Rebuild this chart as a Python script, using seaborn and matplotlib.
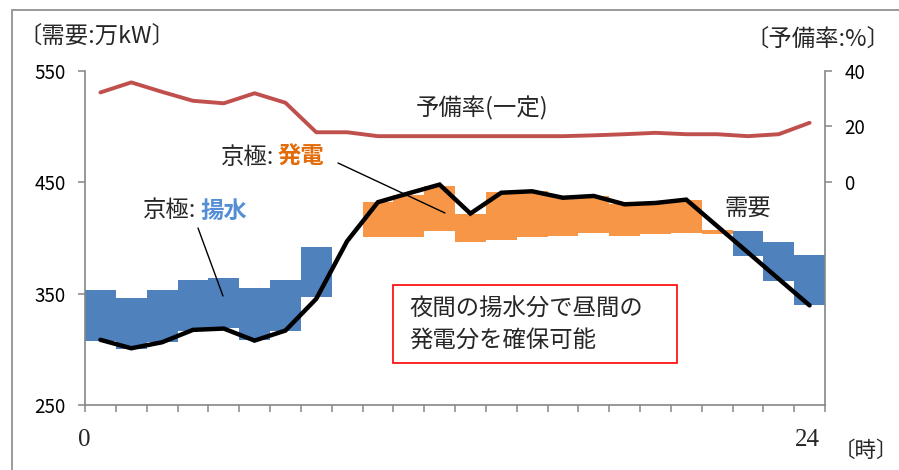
import numpy as np
import pandas as pd
import matplotlib
matplotlib.use("Agg")
import matplotlib.pyplot as plt
import seaborn as sns
from matplotlib.patches import Rectangle
from matplotlib.lines import Line2D

# ---------------- data ----------------
hour_centers = [0.5, 1.5, 2.5, 3.5, 4.5, 5.5, 6.5, 7.5, 8.5, 9.5, 10.5, 11.5,
                12.5, 13.5, 14.5, 15.5, 16.5, 17.5, 18.5, 19.5, 20.5, 21.5, 22.5, 23.5]
demand = [308.5, 300.9, 306.3, 317.4, 318.6, 307.8, 316.8, 345.3, 397.0, 432.0, 440.0, 447.8,
          421.8, 440.5, 441.8, 436.0, 437.6, 430.1, 431.3, 434.3, 410.6, 386.9, 363.1, 339.4]
reserve_rate = [32.2, 35.8, 32.4, 29.2, 28.3, 31.9, 28.5, 17.9, 17.9, 16.5, 16.5, 16.5,
                16.5, 16.5, 16.5, 16.5, 16.8, 17.2, 17.7, 17.2, 17.2, 16.5, 17.2, 21.3]

pump_hours = [0, 1, 2, 3, 4, 5, 6, 7, 21, 22, 23]
pump_low = [307.8, 300.4, 306.3, 316.2, 319.0, 308.7, 316.2, 346.8, 383.3, 361.2, 339.4]
pump_high = [353.4, 346.2, 353.4, 362.4, 363.9, 355.2, 362.4, 391.7, 405.9, 396.3, 384.3]

gen_hours = [9, 10, 11, 12, 13, 14, 15, 16, 17, 18, 19, 20]
gen_low = [400.7, 400.7, 405.9, 396.3, 397.7, 400.7, 402.0, 404.5, 402.0, 403.3, 404.8, 403.8]
gen_high = [432.2, 438.2, 446.7, 421.8, 440.9, 442.0, 436.5, 438.0, 430.0, 431.6, 434.3, 406.7]

left_ticks = [250, 350, 450, 550]
right_ticks = [0, 20, 40]

# ---------------- style ----------------
sns.set_theme(style="white")
plt.rcParams["font.family"] = ["Noto Sans CJK JP", "DejaVu Sans"]

BLUE = "#4F81BD"
ORANGE = "#F79646"
RED = "#C0504D"
GREY = "#868686"
FS = 16.8

W, H = 899, 470
fig = plt.figure(figsize=(W / 100, H / 100), dpi=100)

def fx(px):
    return px / W

def fy(py):
    return 1 - py / H

ax = fig.add_axes([fx(85), fy(405), fx(825) - fx(85), fy(70.7) - fy(405)])

pump = pd.DataFrame({"hour": pump_hours, "low": pump_low, "high": pump_high})
gen = pd.DataFrame({"hour": gen_hours, "low": gen_low, "high": gen_high})
ax.bar(pump["hour"], pump["high"] - pump["low"], bottom=pump["low"], width=1.0,
       align="edge", color=BLUE, linewidth=0, zorder=1)
ax.bar(gen["hour"], gen["high"] - gen["low"], bottom=gen["low"], width=1.0,
       align="edge", color=ORANGE, linewidth=0, zorder=1)

df = pd.DataFrame({"hour": hour_centers, "demand": demand, "reserve": reserve_rate})
sns.lineplot(data=df, x="hour", y="demand", ax=ax, color="black", linewidth=3.2,
             zorder=3, solid_joinstyle="miter")

ax.set_xlim(0, 24)
ax.set_ylim(250, 550)
ax.set_xticks(range(25))
ax.set_xticklabels([""] * 25)
ax.set_yticks(left_ticks)
ax.set_yticklabels([str(t) for t in left_ticks], fontsize=13.5)
ax.set_xlabel("")
ax.set_ylabel("")

ax2 = ax.twinx()
sns.lineplot(data=df, x="hour", y="reserve", ax=ax2, color=RED, linewidth=2.8)
ax2.set_ylim(-80, 40)
ax2.set_yticks(right_ticks)
ax2.set_yticklabels([str(t) for t in right_ticks], fontsize=13.5)
ax2.set_ylabel("")
ax2.set_xlim(0, 24)

for a in (ax, ax2):
    for s in a.spines.values():
        s.set_color(GREY)
        s.set_linewidth(1.2)
    a.spines["top"].set_visible(False)
ax.spines["right"].set_visible(False)
ax2.spines["left"].set_visible(False)
ax2.spines["bottom"].set_visible(False)

ax.tick_params(axis="both", direction="out", length=5, width=1.1, color=GREY,
               pad=9, labelcolor="black")
ax.tick_params(axis="x", pad=2)
ax.tick_params(axis="y", left=True, right=False)
ax.tick_params(axis="x", bottom=True)
ax2.tick_params(axis="y", direction="out", length=5, width=1.1, color=GREY,
                pad=9, labelcolor="black", right=True)

# ---------------- annotations (figure pixel positions) ----------------
fig.text(fx(18), fy(36), "〔需要:万kW〕", fontsize=FS, va="center", ha="left")
fig.text(fx(890), fy(39), "〔予備率:%〕", fontsize=FS, va="center", ha="right")
fig.text(fx(416), fy(108), "予備率(一定)", fontsize=FS, va="center", ha="left")

fig.text(fx(274), fy(157), "京極:", fontsize=FS, va="center", ha="right")
fig.text(fx(278), fy(157), "発電", fontsize=FS, va="center", ha="left",
         color="#E36C0A", fontweight="bold")
fig.text(fx(196), fy(211), "京極:", fontsize=FS, va="center", ha="right")
fig.text(fx(200), fy(211), "揚水", fontsize=FS, va="center", ha="left",
         color="#558ED5", fontweight="bold")
fig.text(fx(748), fy(208), "需要", fontsize=FS, va="center", ha="center")

fig.add_artist(Line2D([fx(198), fx(223)], [fy(228), fy(296)], color="black", lw=1.0,
                      transform=fig.transFigure))
fig.add_artist(Line2D([fx(338), fx(445)], [fy(163), fy(213)], color="black", lw=1.0,
                      transform=fig.transFigure))

fig.add_artist(Rectangle((fx(393), fy(363)), fx(677) - fx(393), fy(285) - fy(363),
                         transform=fig.transFigure, fill=True, facecolor="white",
                         edgecolor="#FF0000", lw=1.2))
fig.text(fx(409), fy(309), "夜間の揚水分で昼間の", fontsize=FS, va="center", ha="left")
fig.text(fx(409), fy(340), "発電分を確保可能", fontsize=FS, va="center", ha="left")

fig.text(fx(84), fy(440), "0", fontsize=18, va="center", ha="center",
         family="Liberation Serif")
fig.text(fx(807), fy(440), "24", fontsize=18, va="center", ha="center",
         family="Liberation Serif")
fig.text(fx(834), fy(451), "〔時〕", fontsize=15.5, va="center", ha="left")

# outer frame
fig.add_artist(Rectangle((fx(12), fy(480)), fx(920) - fx(12), fy(10) - fy(480),
                         transform=fig.transFigure, fill=False, edgecolor="#9A9A9A",
                         lw=1.4))

fig.savefig("out.png", dpi=100)
